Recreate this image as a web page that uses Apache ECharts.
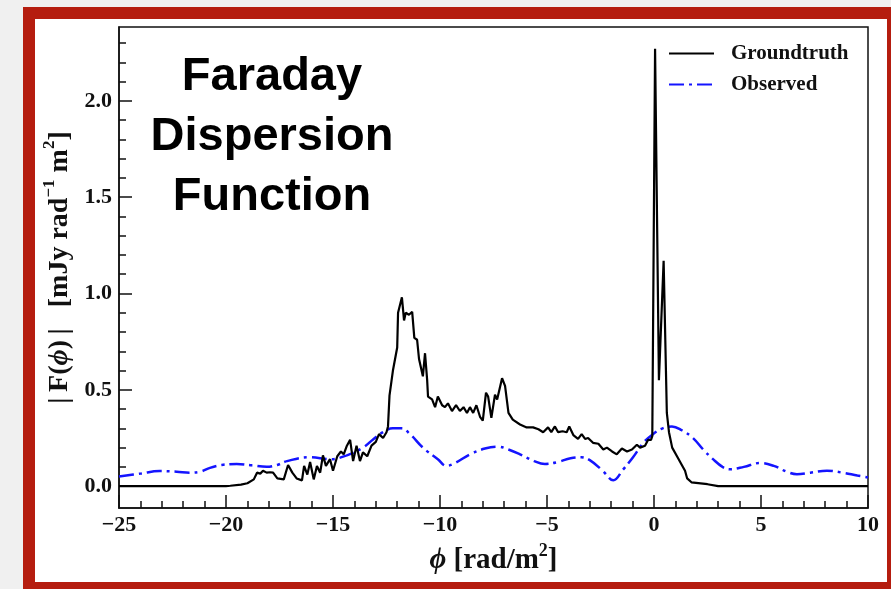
<!DOCTYPE html>
<html>
<head>
<meta charset="utf-8">
<script src="https://cdn.jsdelivr.net/npm/echarts@6/dist/echarts.min.js"></script>
<style>
  html, body { margin: 0; padding: 0; background: #f0f0f0; }
  #chart { width: 891px; height: 589px; }
</style>
</head>
<body>
<div id="chart"></div>
<script>
// Faraday depth phi [rad/m^2] and |F(phi)| [mJy rad^-1 m^2] of the true model
const groundtruthPhi = [-25, -20, -19.8, -19.3, -19.0, -18.7, -18.55, -18.4, -18.27, -18.1, -17.94, -17.8, -17.6, -17.3, -17.1, -16.9, -16.7, -16.45, -16.35, -16.2, -16.07, -15.9, -15.75, -15.6, -15.47, -15.33, -15.14, -15.0, -14.8, -14.63, -14.5, -14.35, -14.2, -14.06, -13.9, -13.74, -13.6, -13.4, -13.2, -13.0, -12.85, -12.66, -12.5, -12.43, -12.36, -12.2, -12.0, -11.96, -11.78, -11.68, -11.6, -11.45, -11.3, -11.2, -11.07, -10.98, -10.8, -10.7, -10.6, -10.56, -10.37, -10.23, -10.1, -9.9, -9.77, -9.63, -9.44, -9.25, -9.07, -8.9, -8.74, -8.6, -8.45, -8.3, -8.13, -8.0, -7.85, -7.75, -7.6, -7.43, -7.33, -7.1, -6.96, -6.8, -6.6, -6.26, -5.95, -5.65, -5.4, -5.18, -4.95, -4.8, -4.63, -4.48, -4.27, -4.08, -3.96, -3.77, -3.55, -3.38, -3.22, -3.08, -2.85, -2.6, -2.37, -2.2, -1.96, -1.74, -1.5, -1.26, -1.03, -0.8, -0.65, -0.42, -0.28, -0.14, -0.08, 0.05, 0.23, 0.45, 0.6, 0.7, 0.85, 1.1, 1.3, 1.45, 1.55, 1.75, 2.5, 3.0, 10];
const groundtruthAmp = [0, 0, 0.002, 0.008, 0.015, 0.035, 0.07, 0.065, 0.08, 0.07, 0.072, 0.07, 0.04, 0.035, 0.11, 0.07, 0.04, 0.03, 0.105, 0.06, 0.125, 0.035, 0.105, 0.07, 0.16, 0.105, 0.14, 0.08, 0.155, 0.18, 0.165, 0.21, 0.24, 0.13, 0.21, 0.13, 0.175, 0.155, 0.21, 0.23, 0.27, 0.25, 0.28, 0.31, 0.47, 0.6, 0.72, 0.9, 0.98, 0.86, 0.9, 0.89, 0.905, 0.77, 0.76, 0.66, 0.57, 0.69, 0.55, 0.465, 0.45, 0.41, 0.465, 0.42, 0.41, 0.43, 0.39, 0.42, 0.39, 0.41, 0.38, 0.41, 0.38, 0.42, 0.36, 0.34, 0.485, 0.465, 0.355, 0.475, 0.45, 0.56, 0.52, 0.38, 0.345, 0.32, 0.305, 0.305, 0.295, 0.28, 0.305, 0.28, 0.31, 0.28, 0.285, 0.28, 0.31, 0.265, 0.245, 0.27, 0.245, 0.25, 0.225, 0.22, 0.19, 0.2, 0.18, 0.165, 0.195, 0.18, 0.19, 0.215, 0.2, 0.21, 0.24, 0.24, 0.26, 2.27, 0.55, 1.17, 0.38, 0.28, 0.2, 0.15, 0.11, 0.08, 0.04, 0.02, 0.01, 0, 0];

// Observed (RM-synthesis) amplitude
const observedPhi = [-25, -24, -23.1, -22.3, -21.7, -21.2, -20.75, -20.2, -19.5, -18.8, -18.1, -17.6, -17.15, -16.1, -15.1, -14.35, -13.6, -13.1, -12.66, -12.2, -11.8, -11.4, -10.8, -10.1, -9.7, -9.3, -8.6, -7.9, -7.3, -6.8, -6.26, -5.6, -5.1, -4.5, -3.9, -3.4, -3.0, -2.4, -1.9, -1.45, -0.98, -0.5, -0.05, 0.4, 0.84, 1.3, 1.82, 2.3, 2.76, 3.2, 3.55, 4.2, 4.95, 5.6, 6.2, 6.68, 7.3, 8.08, 8.8, 9.5, 10];
const observedAmp = [0.05, 0.065, 0.078, 0.075, 0.07, 0.075, 0.095, 0.11, 0.115, 0.108, 0.1, 0.11, 0.13, 0.15, 0.14, 0.16, 0.2, 0.245, 0.28, 0.3, 0.3, 0.27, 0.2, 0.14, 0.105, 0.12, 0.165, 0.195, 0.205, 0.19, 0.165, 0.13, 0.115, 0.125, 0.145, 0.15, 0.135, 0.08, 0.03, 0.085, 0.15, 0.225, 0.27, 0.3, 0.31, 0.29, 0.25, 0.19, 0.14, 0.1, 0.088, 0.1, 0.12, 0.105, 0.075, 0.062, 0.07, 0.08, 0.07, 0.055, 0.045];

const yMajorTicks = [0, 0.5, 1.0, 1.5, 2.0];
const yMinorTicks = [0.1, 0.2, 0.3, 0.4, 0.6, 0.7, 0.8, 0.9, 1.1, 1.2, 1.3, 1.4, 1.6, 1.7, 1.8, 1.9, 2.1, 2.2, 2.3];
const seriesNames = ['Groundtruth', 'Observed'];
const titleLines = ['Faraday', 'Dispersion', 'Function'];

const Y_MIN = -0.1135, Y_MAX = 2.3835;
const SERIF = '"Liberation Serif", "Times New Roman", serif';

const pair = (xs, ys) => xs.map((x, i) => [x, ys[i]]);
const minusSign = v => (v < 0 ? '\u2212' + Math.abs(v) : String(v));

const chart = echarts.init(document.getElementById('chart'), null, { renderer: 'canvas' });

const INK = '#111';
const labelFont = { fontFamily: SERIF, fontWeight: 'bold', fontSize: 22, color: INK };
const makeRich = size => ({
  t: { fontFamily: SERIF, fontWeight: 'bold', fontSize: size, color: INK, lineHeight: size + 8 },
  i: { fontFamily: SERIF, fontWeight: 'bold', fontStyle: 'italic', fontSize: size, color: INK, lineHeight: size + 8 },
  s: { fontFamily: SERIF, fontWeight: 'bold', fontSize: Math.round(size * 0.62), color: INK,
       lineHeight: Math.round(size * 0.62), verticalAlign: 'top' }
});
const tickLine = { color: INK, width: 1.5 };

chart.setOption({
  backgroundColor: '#f0f0f0',
  animation: false,
  graphic: [
    { type: 'rect', z: -10, silent: true,
      shape: { x: 29, y: 13, width: 864, height: 575 },
      style: { fill: '#ffffff', stroke: '#b51d0f', lineWidth: 12 } },
    { type: 'text', z: 10, x: 272, y: 47,
      style: { text: titleLines.join('\n'), textAlign: 'center',
        font: 'bold 47px "Liberation Sans", Arial, sans-serif', lineHeight: 60, fill: '#000' } }
  ],
  grid: { left: 119, right: 23, top: 27, bottom: 81, show: true,
    borderColor: INK, borderWidth: 1.5, backgroundColor: 'transparent' },
  legend: {
    orient: 'vertical', left: 668, top: 43, padding: 0,
    itemWidth: 45, itemHeight: 14, itemGap: 10,
    data: seriesNames,
    itemStyle: { opacity: 0 },
    textStyle: Object.assign({ padding: [0, 0, 0, 12] }, labelFont, { fontSize: 21 })
  },
  xAxis: {
    type: 'value', min: -25, max: 10, interval: 5,
    name: '{i|ϕ}{t| [rad/m}{s|2}{t|]}', nameLocation: 'middle', nameGap: 34,
    nameTextStyle: { rich: makeRich(29) },
    axisLine: { show: true, onZero: false, lineStyle: tickLine },
    axisTick: { show: true, inside: true, length: 13, lineStyle: tickLine },
    minorTick: { show: true, splitNumber: 5, length: 7, lineStyle: tickLine },
    splitLine: { show: false },
    axisLabel: Object.assign({ margin: 6, formatter: minusSign }, labelFont)
  },
  yAxis: [
    {
      type: 'value', min: Y_MIN, max: Y_MAX,
      name: '{t||\u2009F(}{i|ϕ}{t|)\u2009|   [mJy rad}{s|\u22121}{t| m}{s|2}{t|]}',
      nameLocation: 'middle', nameGap: 39, nameRotate: 90,
      nameTextStyle: { rich: makeRich(28) },
      axisLine: { show: true, onZero: false, lineStyle: tickLine },
      axisTick: { show: true, inside: true, length: 13, customValues: yMajorTicks, lineStyle: tickLine },
      splitLine: { show: false },
      axisLabel: Object.assign({ margin: 7, customValues: yMajorTicks,
        formatter: v => v.toFixed(1) }, labelFont)
    },
    {
      type: 'value', min: Y_MIN, max: Y_MAX, position: 'left',
      axisLine: { show: false, onZero: false },
      axisTick: { show: true, inside: true, length: 7, customValues: yMinorTicks, lineStyle: tickLine },
      splitLine: { show: false },
      axisLabel: { show: false }
    }
  ],
  series: [
    {
      name: seriesNames[0], type: 'line', yAxisIndex: 0, symbol: 'none',
      data: pair(groundtruthPhi, groundtruthAmp),
      lineStyle: { color: '#000', width: 2.2 }, itemStyle: { color: '#000' }, z: 3
    },
    {
      name: seriesNames[1], type: 'line', yAxisIndex: 0, symbol: 'none', smooth: 0.4,
      data: pair(observedPhi, observedAmp),
      lineStyle: { color: '#1414ff', width: 2.5, type: [15, 5, 3, 5] },
      itemStyle: { color: '#1414ff' }, z: 2
    }
  ]
});
</script>
</body>
</html>
